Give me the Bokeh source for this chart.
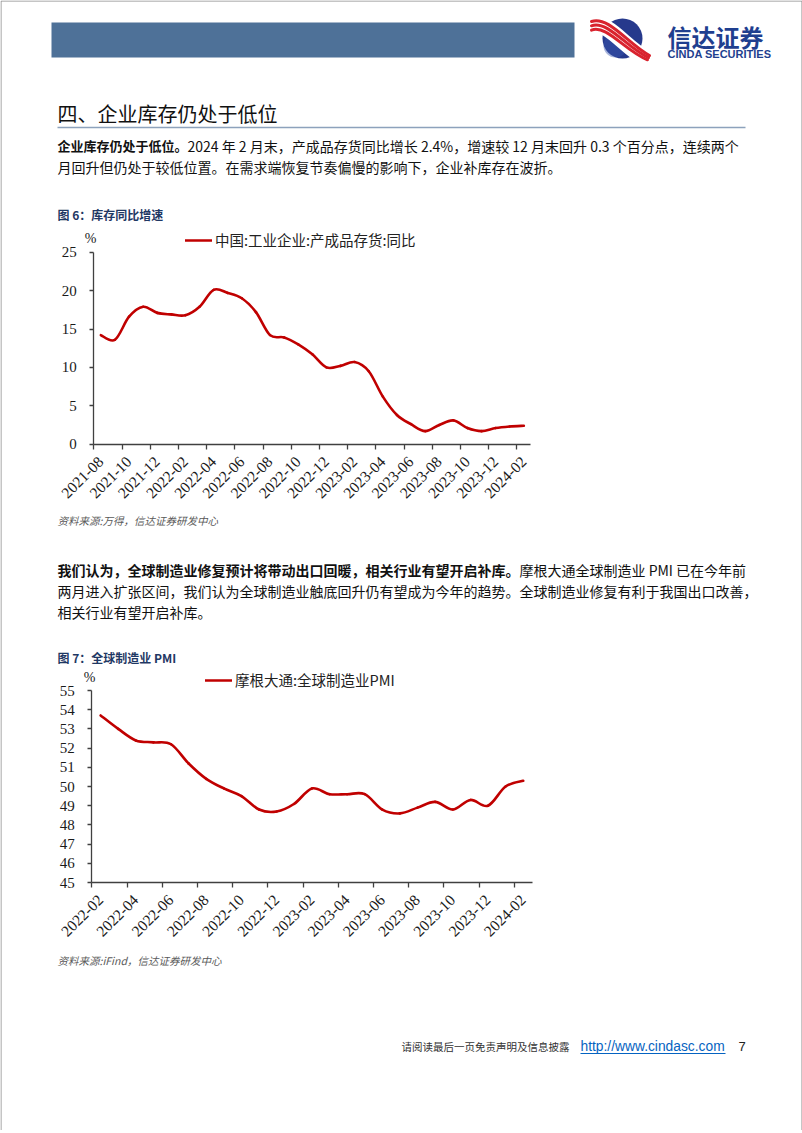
import numpy as np
import pandas as pd
from math import pi
from bokeh.plotting import figure
from bokeh.models import Range1d, FixedTicker, Legend, LegendItem, LinearAxis
from bokeh.core.properties import value
from bokeh.embed import file_html
from bokeh.resources import INLINE

# ---------------- data ----------------
inv_months = [p.strftime("%Y-%m") for p in pd.period_range("2021-08", "2024-02", freq="M")]
inv_yoy = [14.2, 13.6, 16.6, 17.9, 17.1, 16.9, 16.8, 17.9, 20.1, 19.7, 19.0, 17.2,
           14.2, 13.9, 13.0, 11.7, 10.0, 10.2, 10.7, 9.5, 6.2, 3.8, 2.6, 1.7,
           2.5, 3.1, 2.1, 1.7, 2.1, 2.3, 2.4]
inv_yticks = [0, 5, 10, 15, 20, 25]
inv_label = "中国:工业企业:产成品存货:同比"

pmi_months = [p.strftime("%Y-%m") for p in pd.period_range("2022-02", "2024-02", freq="M")]
pmi_vals = [53.7, 53.0, 52.4, 52.3, 52.2, 51.2, 50.4, 49.9, 49.5, 48.8, 48.7, 49.1,
            49.9, 49.6, 49.6, 49.6, 48.8, 48.6, 48.9, 49.2, 48.8, 49.3, 49.0, 50.0, 50.3]
pmi_yticks = [45, 46, 47, 48, 49, 50, 51, 52, 53, 54, 55]
pmi_label = "摩根大通:全球制造业PMI"

# ---------------- style ----------------
W, H = 802, 1130
CJK = "Noto Sans CJK SC"
SERIF = "Liberation Serif"
SANS = "Liberation Sans"
RED = "#C00000"
AXC = "#404040"
NAVY = "#1F3864"

p = figure(width=W, height=H, x_range=Range1d(0, W), y_range=Range1d(H, 0),
           x_axis_type=None, y_axis_type=None, toolbar_location=None,
           output_backend="svg", min_border=0, outline_line_color=None, title=None)


def txt(x, y, s, size, font=CJK, color="#111111", style="normal", align="left"):
    p.text(x=[x], y=[y], text=[s], text_font=value(font),
           text_font_size=value(f"{size}px"), text_color=color,
           text_font_style=style, text_align=align, text_baseline="middle")


def smooth(xs, ys, color, width, xn, yn):
    xs = np.asarray(xs, float)
    ys = np.asarray(ys, float)
    xp = np.concatenate([[xs[0]], xs, [xs[-1]]])
    yp = np.concatenate([[ys[0]], ys, [ys[-1]]])
    i = np.arange(len(xs) - 1)
    cx0 = xp[i + 1] + (xp[i + 2] - xp[i]) / 6
    cy0 = yp[i + 1] + (yp[i + 2] - yp[i]) / 6
    cx1 = xp[i + 2] - (xp[i + 3] - xp[i + 1]) / 6
    cy1 = yp[i + 2] - (yp[i + 3] - yp[i + 1]) / 6
    return p.bezier(x0=xs[:-1], y0=ys[:-1], x1=xs[1:], y1=ys[1:], cx0=cx0, cy0=cy0,
                    cx1=cx1, cy1=cy1, line_color=color, line_width=width,
                    line_cap="round", x_range_name=xn, y_range_name=yn)


def chart(name, months, vals, yticks, ax_x, ax_y, top_y, right_x, label, leg_x, leg_y, pct):
    n = len(months)
    ymin, ymax = yticks[0], yticks[-1]
    ppx = (right_x - ax_x) / n            # pixels per month
    ppy = (ax_y - top_y) / (ymax - ymin)  # pixels per unit
    xn, yn = name + "x", name + "y"
    p.extra_x_ranges[xn] = Range1d(-ax_x / ppx, (W - ax_x) / ppx)
    p.extra_y_ranges[yn] = Range1d(ymin - (H - ax_y) / ppy, ymin + ax_y / ppy)

    x = np.arange(n) + 0.5
    r = smooth(x, vals, RED, 2.6, xn, yn)

    ya = LinearAxis(x_range_name=xn, y_range_name=yn, fixed_location=0,
                    bounds=(ymin, ymax), ticker=FixedTicker(ticks=yticks))
    ya.axis_line_color = AXC
    ya.axis_line_width = 1.3
    ya.major_tick_line_color = AXC
    ya.major_tick_line_width = 1.3
    ya.major_tick_out = 4
    ya.major_tick_in = 0
    ya.minor_tick_line_color = None
    ya.major_label_standoff = 13
    ya.major_label_text_font = SERIF
    ya.major_label_text_font_size = "15px"
    ya.major_label_text_color = "#1a1a1a"
    p.add_layout(ya, "left")

    centers = [i + 0.5 for i in range(0, n, 2)]
    bnds = [float(i) for i in range(0, n, 2)]
    xa = LinearAxis(x_range_name=xn, y_range_name=yn, fixed_location=ymin,
                    bounds=(0, n), ticker=FixedTicker(ticks=centers, minor_ticks=bnds))
    xa.major_label_overrides = {c: months[int(c)] for c in centers}
    xa.axis_line_color = AXC
    xa.axis_line_width = 1.3
    xa.major_tick_line_color = None
    xa.major_tick_out = 0
    xa.major_tick_in = 0
    xa.minor_tick_line_color = AXC
    xa.minor_tick_line_width = 1.3
    xa.minor_tick_out = 5
    xa.minor_tick_in = 0
    xa.major_label_orientation = pi / 4
    xa.major_label_standoff = 10
    xa.major_label_text_font = SERIF
    xa.major_label_text_font_size = "15.5px"
    xa.major_label_text_color = "#1a1a1a"
    p.add_layout(xa, "below")

    leg = Legend(items=[LegendItem(label=label, renderers=[r])],
                 location=(leg_x, H - leg_y - 8), glyph_width=27, glyph_height=16,
                 label_height=16, label_standoff=3, padding=0, margin=0, spacing=0,
                 border_line_color=None, background_fill_alpha=0,
                 label_text_font=CJK, label_text_font_size="14.5px",
                 label_text_color="#222222")
    p.add_layout(leg)
    txt(pct[0], pct[1], "%", 14, font=SERIF, color="#1a1a1a", align="center")


# ---------------- page frame ----------------
p.segment(x0=[0.5, 0.5, 801.5], y0=[0.5, 0.5, 0.5], x1=[0.5, 801.5, 801.5],
          y1=[H, 0.5, H], line_color="#8c8c8c", line_width=1)

# ---------------- header ----------------
p.quad(left=[51], right=[574], top=[22], bottom=[57], fill_color="#4E7198", line_color=None)
p.circle(x=[622], y=[38], radius=20, fill_color="#26398C", line_color=None)
p.circle(x=[615], y=[45], radius=12, fill_color="#3A56B0", fill_alpha=0.45, line_color=None)
p.bezier(x0=[592], y0=[26], x1=[646], y1=[58], cx0=[607], cy0=[19], cx1=[625], cy1=[48],
         line_color="white", line_width=16, line_cap="round")
for k, a in enumerate([0.0, 4.3, 8.6]):
    p.bezier(x0=[591], y0=[21 + a], x1=[649 - k], y1=[55 + a * 0.5],
             cx0=[608 - k], cy0=[15 + a], cx1=[628 - k * 1.5], cy1=[44 + a * 0.8],
             line_color="#D9232E", line_width=3.0, line_cap="round")
txt(667, 35.5, "信达证券", 24, color="#1F3F8F", style="bold")
txt(667, 53, "CINDA SECURITIES", 11, font=SANS, color="#1F3F8F", style="bold")

# ---------------- section 1 ----------------
txt(57, 113, "四、企业库存仍处于低位", 20, color="#111111")
p.segment(x0=[57], y0=[127], x1=[745], y1=[127], line_color="#8DA2BC", line_width=1.3)
txt(57, 145, "企业库存仍处于低位。", 13, style="bold")
txt(187, 145, "2024 年 2 月末，产成品存货同比增长 2.4%，增速较 12 月末回升 0.3 个百分点，连续两个", 14)
txt(57, 166, "月回升但仍处于较低位置。在需求端恢复节奏偏慢的影响下，企业补库存在波折。", 14)
txt(57, 214, "图 6：库存同比增速", 12, color=NAVY, style="bold")

chart("c1", inv_months, inv_yoy, inv_yticks, 93.3, 443.7, 251.7, 530.4,
      inv_label, 185, 242, (90, 238))
txt(57, 520, "资料来源:万得，信达证券研发中心", 10.5, color="#595959", style="italic")

# ---------------- section 2 ----------------
txt(57, 569, "我们认为，全球制造业修复预计将带动出口回暖，相关行业有望开启补库。", 14, style="bold")
txt(519, 569, "摩根大通全球制造业 PMI 已在今年前", 14)
txt(57, 590, "两月进入扩张区间，我们认为全球制造业触底回升仍有望成为今年的趋势。全球制造业修复有利于我国出口改善，", 14)
txt(57, 611, "相关行业有望开启补库。", 14)
txt(57, 657, "图 7：全球制造业 PMI", 12, color=NAVY, style="bold")

chart("c2", pmi_months, pmi_vals, pmi_yticks, 91.3, 882, 690, 531.5,
      pmi_label, 205, 682, (89, 677))
txt(57, 960, "资料来源:iFind，信达证券研发中心", 10.5, color="#595959", style="italic")

# ---------------- footer ----------------
txt(401, 1046, "请阅读最后一页免责声明及信息披露", 10.5, color="#333333")
txt(580, 1046, "http://www.cindasc.com", 13.8, font=SANS, color="#0563C1")
p.segment(x0=[580], y0=[1053], x1=[725], y1=[1053], line_color="#0563C1", line_width=1)
txt(738, 1046, "7", 13, font=SANS, color="#222222")

open("out.html", "w").write(file_html(p, INLINE))
